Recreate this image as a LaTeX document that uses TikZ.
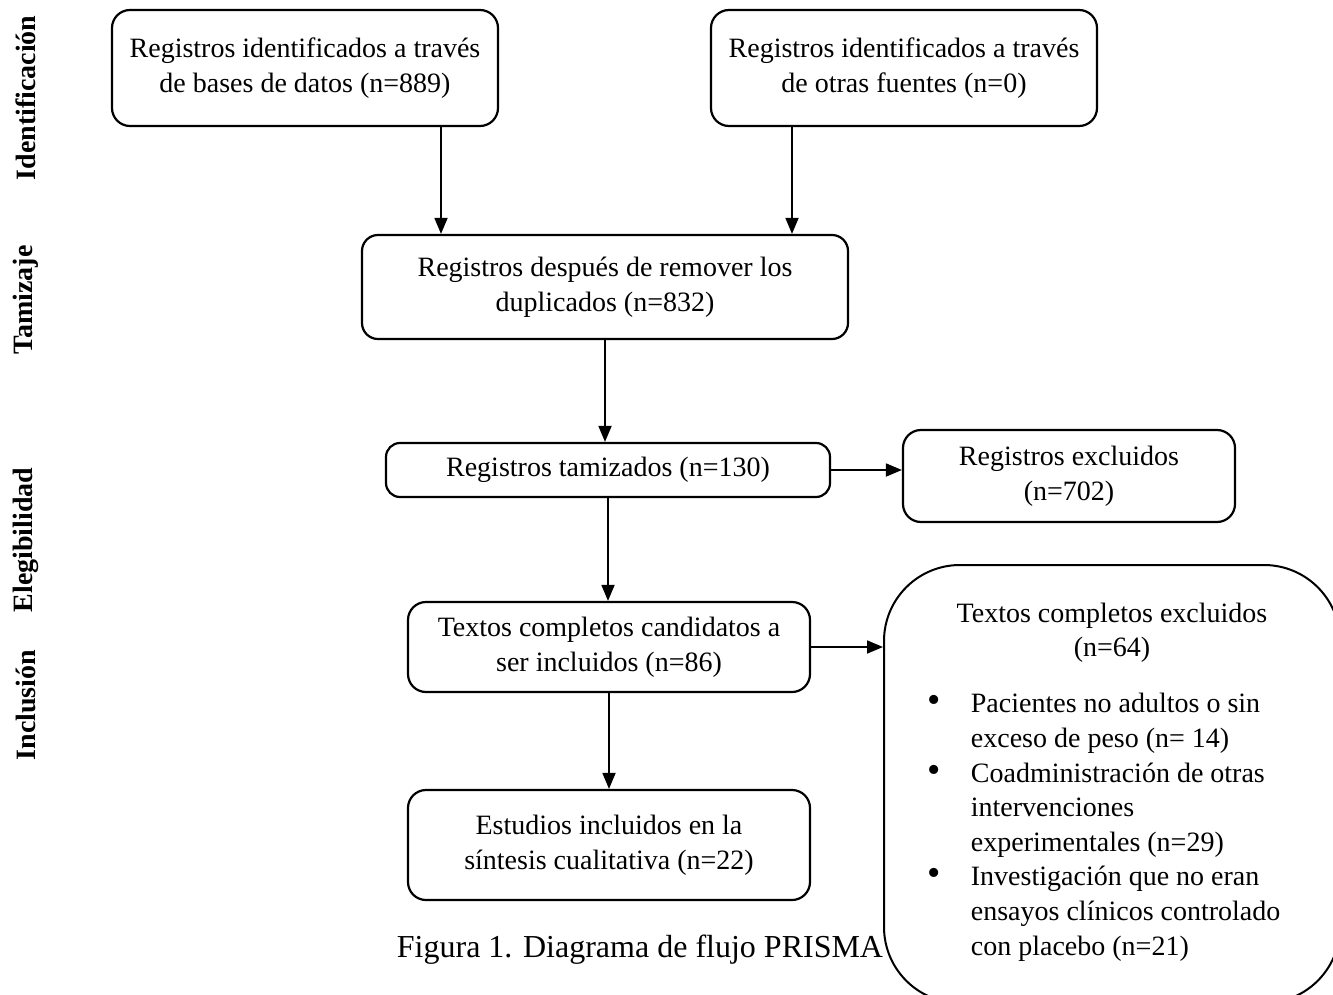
\documentclass[tikz,border=0pt]{standalone}
\usepackage{fontspec}
\setmainfont{Liberation Serif}
\usetikzlibrary{arrows.meta}

\begin{document}
\begin{tikzpicture}[x=0.5pt,y=-0.5pt,
		every node/.append style={font=\fontsize{14}{17.3}\selectfont},
		caja/.style={draw, line width=1.1pt, rounded corners=9pt, align=center, inner sep=0pt},
		flecha/.style={-{Triangle[length=8pt,width=6.5pt]}, line width=0.9pt},
		fase/.style={rotate=90, font=\fontsize{14}{17}\selectfont\bfseries}]
		\clip (0,0) rectangle (1333,995);
		% fases
		\node[fase] (fid) at (26,98) {Identificación};
		\node[fase] (ftam) at (26,300) {Tamizaje};
		\node[fase] (fele) at (26,540) {Elegibilidad};
		\node[fase] (finc) at (26,705) {Inclusión};
		% cajas
		\node[caja, minimum width=193pt, minimum height=58pt] (bases) at (305,68) {Registros identificados a través\\de bases de datos (n=889)};
		\node[caja, minimum width=193pt, minimum height=58pt] (otras) at (904,68) {Registros identificados a través\\de otras fuentes (n=0)};
		\node[caja, rounded corners=8pt, minimum width=243pt, minimum height=52pt] (dup) at (605,287) {Registros después de remover los\\duplicados (n=832)};
		\node[caja, rounded corners=7pt, minimum width=222pt, minimum height=27pt] (tam) at (608,470) {Registros tamizados (n=130)};
		\node[caja, minimum width=166pt, minimum height=46pt] (exc) at (1069,476) {Registros excluidos\\(n=702)};
		\node[caja, minimum width=201pt, minimum height=45pt] (cand) at (609,647) {Textos completos candidatos a\\ser incluidos (n=86)};
		\node[caja, minimum width=201pt, minimum height=55pt] (incl) at (609,845) {Estudios incluidos en la\\síntesis cualitativa (n=22)};
		\node[caja, rounded corners=38pt, line width=1pt, minimum width=228pt, minimum height=219pt] (texc) at (1112,784) {Textos completos excluidos\\(n=64)\\[12pt]
			\hspace*{-8pt}\begin{tabular}{@{}l@{\hspace{15pt}}l@{}}
				{\fontsize{19}{17}\selectfont\textbullet} & Pacientes no adultos o sin\\
				 & exceso de peso (n= 14)\\
				{\fontsize{19}{17}\selectfont\textbullet} & Coadministración de otras\\
				 & intervenciones\\
				 & experimentales (n=29)\\
				{\fontsize{19}{17}\selectfont\textbullet} & Investigación que no eran\\
				 & ensayos clínicos controlado\\
				 & con placebo (n=21)
			\end{tabular}};
		\node[font=\fontsize{16}{19}\selectfont] (fig) at (640,950) {Figura 1. Diagrama de flujo PRISMA};
		% flechas
		\draw[flecha] ([xshift=68pt]bases.south) -- ([xshift=68pt]bases.south |- dup.north);
		\draw[flecha] ([xshift=-56pt]otras.south) -- ([xshift=-56pt]otras.south |- dup.north);
		\draw[flecha] (dup.south) -- (dup.south |- tam.north);
		\draw[flecha] (tam.east) -- (tam.east -| exc.west);
		\draw[flecha] (tam.south) -- (tam.south |- cand.north);
		\draw[flecha] (cand.east) -- (cand.east -| texc.west);
		\draw[flecha] (cand.south) -- (cand.south |- incl.north);
\end{tikzpicture}
\end{document}
